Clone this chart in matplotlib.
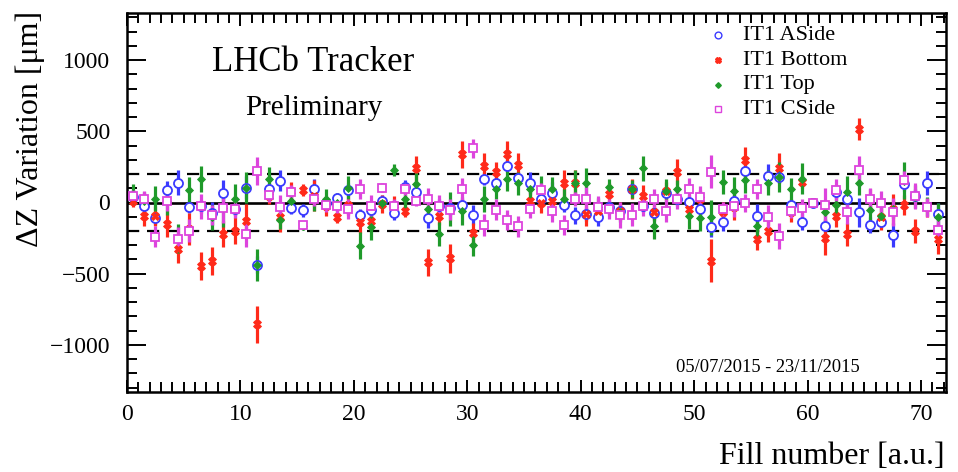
import numpy as np
import matplotlib
matplotlib.use("Agg")
import matplotlib.pyplot as plt
from matplotlib.lines import Line2D

plt.rcParams['font.family'] = ['Liberation Serif', 'DejaVu Serif']
plt.rcParams['mathtext.fontset'] = 'stix'

# Fill index (bin centres) and per-module Z alignment variations [um]
fills = np.arange(72) + 0.5

aside = [40, -23, -112, 89, 140, -30, -28, -77, 70, -47, 105, -438, 94, 154, -37, -54, 98, -5,
         33, 90, -89, -51, 10, -75, 112, 75, -112, -23, -40, -19, -89, 168, 140, 257, 171, 136,
         23, 66, -19, -89, -82, -105, -35, -60, 98, -23, -75, 70, 23, 5, -47, -175, -136, 12,
         222, -94, 187, 182, -20, -136, 0, -168, 75, 28, -70, -159, -136, -227, 129, 47, 136, -82]
aside_err = [45, 45, 45, 65, 90, 45, 45, 80, 90, 45, 80, 60, 45, 75, 45, 45, 70, 45,
             30, 45, 45, 45, 45, 45, 45, 45, 70, 45, 45, 45, 70, 45, 45, 45, 45, 75,
             45, 80, 45, 60, 45, 60, 45, 45, 40, 45, 45, 40, 45, 45, 45, 70, 65, 45,
             45, 80, 85, 45, 45, 60, 30, 50, 45, 50, 105, 55, 45, 85, 45, 45, 85, 80]

bottom = [10, -98, -94, -152, -328, -187, -445, -410, -222, -199, -129, -854, 47, -105, 82, 89, 47, -28,
          -105, -20, -136, -129, -12, -19, -58, 239, -421, -98, -393, 339, -211, 257, 211, 339, 264, 10,
          0, 10, 136, 140, -82, -58, 58, -58, 94, 47, -65, 82, 215, -47, 23, -409, -70, -35,
          297, -257, -199, 241, -65, 145, 5, -246, -94, -222, 515, 28, -105, -47, -19, -199, -35, -257]
bottom_err = [40, 65, 70, 90, 100, 110, 100, 100, 90, 95, 120, 130, 60, 100, 60, 40, 110, 65,
              40, 65, 80, 65, 65, 65, 45, 90, 95, 60, 100, 95, 70, 90, 75, 95, 85, 65,
              75, 65, 90, 90, 80, 65, 80, 65, 70, 75, 65, 65, 90, 65, 65, 150, 75, 90,
              95, 75, 80, 105, 70, 40, 30, 120, 80, 80, 75, 65, 85, 110, 70, 85, 65, 105]

top = [58, 10, 28, 10, -253, 89, 164, -105, -40, 23, 105, -438, 168, -122, 12, -164, 35, 28,
       0, 105, -304, -175, 0, 229, 23, 129, -47, -222, -47, -58, -297, 23, 94, 164, 136, 94,
       89, 98, 28, 140, 140, -35, 112, -70, 94, 239, -164, 82, 94, -98, -112, -105, 145, 82,
       157, -164, 140, 182, 94, 168, 0, -70, -19, 75, 136, -54, -94, -47, 152, 42, -28, -105]
top_err = [70, 65, 90, 100, 100, 90, 90, 90, 130, 110, 110, 110, 80, 65, 65, 30, 95, 65,
           65, 80, 95, 90, 40, 40, 65, 80, 90, 85, 120, 100, 80, 90, 70, 80, 80, 65,
           100, 80, 65, 90, 100, 65, 50, 65, 65, 85, 90, 85, 65, 90, 85, 120, 85, 95,
           90, 90, 85, 105, 80, 110, 30, 65, 80, 110, 85, 85, 65, 65, 130, 80, 65, 100]

cside = [47, 23, -239, 12, -253, -199, -28, -90, -42, -47, -222, 222, 51, -35, 75, -157, 23, -19,
         -23, -47, 94, -23, 105, -23, 94, 12, 23, -23, -51, 94, 379, -157, -51, -122, -168, -47,
         89, -58, -159, 23, 28, -35, -47, -89, -87, -23, 28, -58, 23, 94, 42, 215, -47, -28,
         -5, 94, -105, -234, -58, -42, 0, -19, 89, -70, 227, 28, 0, -65, 159, 47, -35, -192]
cside_err = [40, 55, 75, 70, 80, 80, 90, 70, 100, 60, 90, 100, 50, 85, 50, 30, 50, 50,
             50, 70, 70, 75, 30, 50, 50, 40, 80, 75, 75, 80, 70, 75, 75, 70, 75, 60,
             50, 80, 70, 50, 80, 80, 70, 90, 80, 75, 70, 80, 70, 80, 75, 115, 50, 75,
             65, 70, 85, 90, 50, 70, 30, 120, 75, 80, 100, 75, 80, 100, 65, 90, 65, 75]

series = [
    ("IT1 ASide", aside, aside_err, dict(color="#3a3aff", marker="o", ms=6.5, mfc="white", mew=1.3)),
    ("IT1 Bottom", bottom, bottom_err, dict(color="#ff2a1a", marker="X", ms=5.5, mfc="#ff2a1a", mew=0.6)),
    ("IT1 Top", top, top_err, dict(color="#1f9a2a", marker="D", ms=3.8, mfc="#1f9a2a", mew=0.6)),
    ("IT1 CSide", cside, cside_err, dict(color="#dd44dd", marker="s", ms=6.2, mfc="white", mew=1.3)),
]

W, H = 958, 472
fig = plt.figure(figsize=(W / 100, H / 100), dpi=100)
ax = fig.add_axes([127 / W, 1 - 392 / H, (946 - 127) / W, (392 - 13) / H])

for name, vals, errs, st in series:
    ax.errorbar(fills, vals, yerr=errs, ls="none", elinewidth=2.3, capsize=0,
                ecolor=st["color"], zorder=3, **st)

ax.axhline(0, color="black", lw=1.9, zorder=2)
for lvl in (200, -200):
    ax.axhline(lvl, color="black", lw=1.6, ls=(0, (5.5, 3.5)), zorder=2)

ax.set_xlim(0, 72.2)
ax.set_ylim(-1330, 1330)
ax.set_xticks(np.arange(0, 71, 10))
ax.set_xticks(np.arange(0, 73, 1), minor=True)
ax.set_yticks(np.arange(-1000, 1001, 500))
ax.set_yticks(np.arange(-1300, 1301, 100), minor=True)
ax.set_yticklabels(["\u22121000", "\u2212500", "0", "500", "1000"])

ax.tick_params(which="both", direction="in", top=True, right=True, width=1.4,
               labelsize=17)
ax.tick_params(axis="y", which="major", length=14, pad=12)
ax.tick_params(axis="y", which="minor", length=7)
ax.tick_params(axis="x", which="major", length=9, pad=9)
ax.tick_params(axis="x", which="minor", length=7)
for sp in ax.spines.values():
    sp.set_linewidth(1.8)

fig.text(30 / W, 1 - 11 / H, "\u0394Z Variation [\u03bcm]", rotation=90,
         ha="center", va="top", fontsize=23)
fig.text(945 / W, 1 - 464 / H, "Fill number [a.u.]", ha="right", va="baseline",
         fontsize=23)

fig.text(212 / W, 1 - 71 / H, "LHCb Tracker", ha="left", va="baseline", fontsize=25)
fig.text(245 / W, 1 - 115 / H, "Preliminary", ha="left", va="baseline", fontsize=21)
fig.text(676 / W, 1 - 372 / H, "05/07/2015 - 23/11/2015", ha="left", va="baseline",
         fontsize=13.3)

# legend built by hand: marker column plus labels
rows_y = [35, 60.5, 85, 109]
for (name, _, _, st), ry in zip(series, rows_y):
    fig.add_artist(Line2D([718 / W], [1 - ry / H], transform=fig.transFigure,
                          ls="none", marker=st["marker"], color=st["color"],
                          mfc=st["mfc"], ms=st["ms"] * 0.75, mew=1.0))
    fig.text(743 / W, 1 - ry / H, name, ha="left", va="center", fontsize=16)

fig.savefig("out.png", dpi=100)
